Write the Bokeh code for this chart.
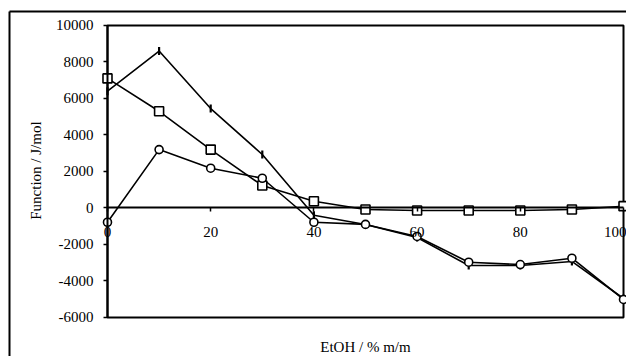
import math
from bokeh.plotting import figure
from bokeh.models import (Range1d, FixedTicker, Label, LinearAxis,
                          CustomJSTickFormatter)
from bokeh.embed import file_html
from bokeh.resources import INLINE

# ---- data ----
etoh = [0, 10, 20, 30, 40, 50, 60, 70, 80, 90, 100]
series_dash = [6400, 8600, 5450, 2930, -400, -900, -1620, -3150, -3150, -2930, -4960]
series_square = [7100, 5300, 3200, 1230, 370, -80, -140, -140, -140, -80, 100]
series_circle = [-780, 3200, 2180, 1630, -780, -900, -1560, -2970, -3100, -2750, -5010]
x_ticks = [0, 20, 40, 60, 80, 100]
y_ticks = [-6000, -4000, -2000, 0, 2000, 4000, 6000, 8000, 10000]
x_title = "EtOH / % m/m"
y_title = "Function / J/mol"

FONT = "Liberation Serif"
FS = "15px"

x0, x1 = x_ticks[0], x_ticks[-1]
y0, y1 = y_ticks[0], y_ticks[-1]

# the frame is the outer chart-area border; the plot box is drawn inside it
p = figure(width=626, height=356, output_backend="svg", toolbar_location=None,
           x_axis_location=None, y_axis_location=None,
           x_range=Range1d(x0 - 18.99, x1 + 0.58),
           y_range=Range1d(y0 - 2137, y1 + 767),
           min_border_left=9, min_border_right=0, min_border_top=11, min_border_bottom=0)
p.background_fill_color = "white"
p.border_fill_color = "white"
p.outline_line_color = None
p.grid.visible = False

# outer border lines (top and left; right and bottom lie beyond the picture)
for side in ("above", "left"):
    a = LinearAxis(ticker=FixedTicker(ticks=[], minor_ticks=[]),
                   axis_line_color="black", axis_line_width=2,
                   major_label_text_font_size="0px")
    p.add_layout(a, side)

fmt = CustomJSTickFormatter(code="return tick.toFixed(0)")

# y axis at x = 0
ya = LinearAxis(fixed_location=x0, bounds=(y0, y1), ticker=FixedTicker(ticks=y_ticks),
                formatter=fmt)
ya.axis_line_width = 2
ya.major_tick_line_width = 1.5
ya.major_tick_out = 4
ya.major_tick_in = 0
ya.minor_tick_line_color = None
ya.major_label_text_font = FONT
ya.major_label_text_font_size = FS
ya.major_label_text_color = "black"
ya.major_label_standoff = 10
p.add_layout(ya, "left")

# x axis at y = 0
xa = LinearAxis(fixed_location=0, bounds=(x0, x1), ticker=FixedTicker(ticks=x_ticks),
                formatter=fmt)
xa.axis_line_width = 2
xa.major_tick_line_width = 1.5
xa.major_tick_out = 4
xa.major_tick_in = 0
xa.minor_tick_line_color = None
xa.major_label_text_font = FONT
xa.major_label_text_font_size = FS
xa.major_label_text_color = "black"
xa.major_label_standoff = 15
p.add_layout(xa, "below")

# plot-area box
p.quad(left=[x0], right=[x1], bottom=[y0], top=[y1], fill_color=None,
       line_color="black", line_width=2)

# series
p.line(etoh, series_dash, line_color="black", line_width=1.6)
p.scatter(etoh, series_dash, marker="dash", angle=math.pi / 2, size=8,
          line_color="black", line_width=2.2)
p.line(etoh, series_square, line_color="black", line_width=1.6)
p.scatter(etoh, series_square, marker="square", size=9, fill_color="white",
          line_color="black", line_width=1.6)
p.line(etoh, series_circle, line_color="black", line_width=1.6)
p.scatter(etoh, series_circle, marker="circle", size=8, fill_color="white",
          line_color="black", line_width=1.6)

# titles
p.add_layout(Label(x=x0 - 13.8, y=(y0 + y1) / 2 + 50, text=y_title,
                   angle=math.pi / 2, text_align="center", text_baseline="middle",
                   text_font=FONT, text_font_size=FS, text_color="black"))
p.add_layout(Label(x=(x0 + x1) / 2, y=y0 - 1590, text=x_title,
                   text_align="center", text_baseline="middle",
                   text_font=FONT, text_font_size=FS, text_color="black"))

open("out.html", "w").write(file_html(p, INLINE))
